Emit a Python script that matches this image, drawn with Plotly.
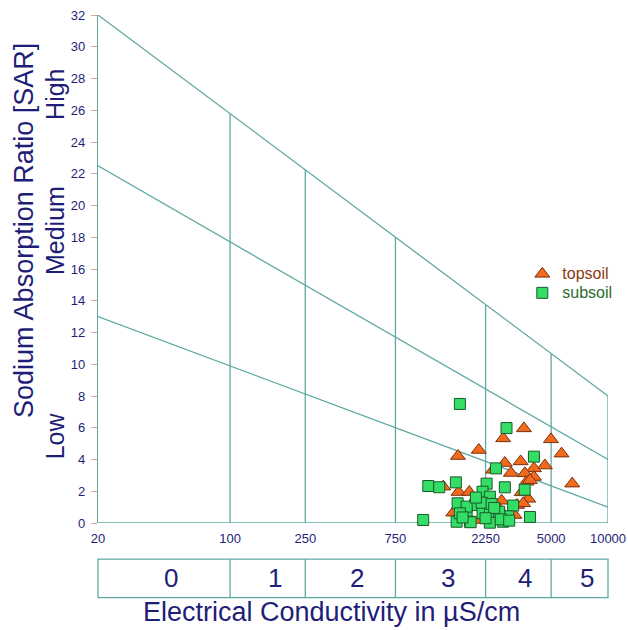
import math
import plotly.graph_objects as go

# ---------------- data ----------------
ec_ticks = [20, 100, 250, 750, 2250, 5000, 10000]
ec_tick_labels = ["20", "100", "250", "750", "2250", "5000", "10000"]
salinity_classes = ["0", "1", "2", "3", "4", "5"]

# SAR boundary lines: value at EC=20 and at EC=10000
sar_at_20 = [13.0, 22.5, 32.0]
sar_at_10000 = [1.0, 4.0, 8.0]

sodium_classes = ["Low", "Medium", "High"]

topsoil_ec = [3589, 2787, 4989, 2070, 5677, 1607, 2845, 3451, 4634, 4055, 3062,
              3631, 4055, 2468, 6467, 3707, 3864, 1343, 1618, 1845, 3491, 3784,
              2735, 2099, 1517, 3300, 3557, 2278, 2099, 2650, 3200]
topsoil_sar = [5.96, 5.33, 5.27, 4.6, 4.37, 4.22, 3.78, 3.88, 3.62, 3.44, 3.15,
               3.13, 2.9, 3.35, 2.48, 2.6, 2.7, 2.29, 1.95, 1.95, 1.93, 1.52,
               1.4, 1.66, 0.65, 1.13, 1.24, 1.24, 0.19, 0.9, 0.5]

subsoil_ec = [1645, 2904, 4055, 2553, 1119, 1279, 1567, 2278, 2845, 3622, 2168,
              2371, 1600, 1977, 3148, 1052, 3864, 1786, 2168, 2371, 2965, 1581,
              1859, 2371, 2787, 2143, 1786, 1645, 2655, 2704, 2421, 1875, 2000,
              2500, 3000, 1700, 2250]
subsoil_sar = [7.5, 5.98, 4.18, 3.44, 2.33, 2.25, 2.56, 2.48, 2.25, 2.1, 1.97,
               1.66, 1.24, 1.13, 1.1, 0.19, 0.38, 0.61, 0.61, 0.61, 0.42, 0.08,
               0.08, 0.02, 0.08, 1.28, 1.03, 0.61, 0.71, 0.23, 1.2, 0.05, 1.6,
               0.95, 0.15, 0.35, 0.3]

# ---------------- styles ----------------
TEAL = "#5EA9A3"
NAVY = "#1E1E78"
FONT = "Liberation Sans, Arial, sans-serif"

lx0, lx1 = math.log10(ec_ticks[0]), math.log10(ec_ticks[-1])


def top_line(ec):
    f = (math.log10(ec) - lx0) / (lx1 - lx0)
    return sar_at_20[-1] + (sar_at_10000[-1] - sar_at_20[-1]) * f


fig = go.Figure()

# diagram lines
for a, b in zip(sar_at_20, sar_at_10000):
    fig.add_trace(go.Scatter(x=[ec_ticks[0], ec_ticks[-1]], y=[a, b], mode="lines",
                             line=dict(color=TEAL, width=1.3), showlegend=False,
                             hoverinfo="skip"))
for ec in ec_ticks[1:]:
    fig.add_trace(go.Scatter(x=[ec, ec], y=[0, top_line(ec)], mode="lines",
                             line=dict(color=TEAL, width=1.3), showlegend=False,
                             hoverinfo="skip"))
fig.add_trace(go.Scatter(x=[ec_ticks[0], ec_ticks[-1]], y=[0, 0], mode="lines",
                         line=dict(color=TEAL, width=1.3), showlegend=False,
                         hoverinfo="skip"))

# data
fig.add_trace(go.Scatter(
    x=topsoil_ec, y=topsoil_sar, mode="markers",
    name="<span style='color:#8B3A12;font-size:16px'>topsoil</span>",
    marker=dict(symbol="triangle-up", size=13, color="#F26A1E",
                line=dict(color="#7A300C", width=1)),
    cliponaxis=False))
fig.add_trace(go.Scatter(
    x=subsoil_ec, y=subsoil_sar, mode="markers",
    name="<span style='color:#2A6B2E;font-size:16px'>subsoil</span>",
    marker=dict(symbol="square", size=11, color="#33DD66",
                line=dict(color="#1C5A2A", width=1)),
    cliponaxis=False))

# salinity class box below the axis
box_top, box_bot = -0.071, -0.147
shapes = [dict(type="rect", xref="paper", yref="paper", x0=0, x1=1,
               y0=box_bot, y1=box_top, line=dict(color=TEAL, width=1.3))]
for ec in ec_ticks[1:-1]:
    shapes.append(dict(type="line", xref="x", yref="paper", x0=ec, x1=ec,
                       y0=box_bot, y1=box_top, line=dict(color=TEAL, width=1.3)))

annotations = []
for i, lab in enumerate(salinity_classes):
    xc = (math.log10(ec_ticks[i]) + math.log10(ec_ticks[i + 1])) / 2
    annotations.append(dict(x=xc, y=(box_top + box_bot) / 2, xref="x", yref="paper",
                            xanchor="center", yanchor="middle",
                            text=lab, showarrow=False, xshift=7,
                            font=dict(size=26, color=NAVY, family=FONT)))

annotations.append(dict(x=0.457, y=-0.175, xref="paper", yref="paper",
                        xanchor="center", yanchor="middle",
                        text="Electrical Conductivity in µS/cm", showarrow=False,
                        font=dict(size=27, color=NAVY, family=FONT)))
annotations.append(dict(x=-0.145, y=0.575, xref="paper", yref="paper",
                        xanchor="center", yanchor="middle",
                        text="Sodium Absorption Ratio [SAR]", showarrow=False,
                        textangle=-90, font=dict(size=27, color=NAVY, family=FONT)))
for lab, yp in zip(sodium_classes, [0.171, 0.575, 0.843]):
    annotations.append(dict(x=-0.084, y=yp, xref="paper", yref="paper", text=lab,
                            xanchor="center", yanchor="middle",
                            showarrow=False, textangle=-90,
                            font=dict(size=25, color=NAVY, family=FONT)))

fig.update_layout(
    width=628, height=630,
    margin=dict(l=98, r=20, t=15, b=107, autoexpand=False),
    paper_bgcolor="white", plot_bgcolor="white",
    font=dict(family=FONT, color=NAVY),
    shapes=shapes, annotations=annotations,
    showlegend=True,
    legend=dict(x=0.832, y=0.519, xanchor="left", yanchor="top",
                bgcolor="rgba(0,0,0,0)", font=dict(size=12, family=FONT),
                tracegroupgap=0, itemwidth=30),
    xaxis=dict(type="log", range=[lx0, lx1], tickvals=ec_ticks,
               ticktext=ec_tick_labels, showgrid=False, zeroline=False,
               showline=False, ticks="", ticklabelstandoff=6,
               ticklabeloverflow="allow", automargin=False,
               tickfont=dict(size=13, color=NAVY, family=FONT)),
    yaxis=dict(range=[0, 32], dtick=2, tick0=0, ticks="outside", ticklen=6,
               tickcolor="#D9A3A3", showline=True, linecolor=TEAL, linewidth=1.3,
               showgrid=False, zeroline=False, ticklabeloverflow="allow",
               ticklabelstandoff=3, automargin=False,
               tickfont=dict(size=13, color=NAVY, family=FONT)),
)

# remove the browser's default page margin so the 628x630 figure fills the window
fig.write_html("out.html", config={"displayModeBar": False},
               post_script="document.body.style.margin='0px';")
